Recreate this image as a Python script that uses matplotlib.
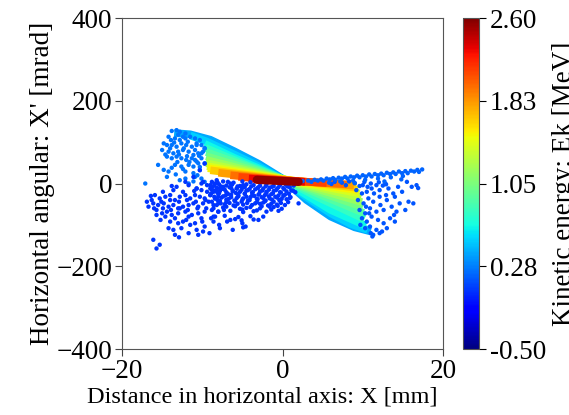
import numpy as np
import matplotlib
matplotlib.use("Agg")
import matplotlib.pyplot as plt
from matplotlib.colors import Normalize

plt.rcParams['font.family'] = ['Liberation Serif', 'DejaVu Serif']

# ---- low energy clouds ----
# upper-left cloud, Ek ~ 0.25 MeV
upper_x = [-13.8, -13.2, -12.8, -12.1, -14.2, -13.9, -13.4, -12.8, -12.1, -11.5, -10.9, -10.3,
           -14.8, -14.4, -13.8, -13.2, -12.6, -12.0, -11.3, -10.7, -10.1, -9.7, -15.0, -14.2,
           -13.6, -13.0, -12.4, -11.7, -11.1, -10.5, -9.9, -14.4, -13.8, -13.2, -12.6, -12.0,
           -11.3, -10.7, -10.1, -13.4, -12.6, -11.7, -11.1, -10.5, -14.8, -14.2, -12.1, -11.1,
           -14.4, -12.1, -10.1, -9.7, -17.1, -11.7, -10.7, -9.7, -10.1, -10.9, -10.3, -9.7,
           -10.9, -11.1,
           -13.0, -12.4, -11.8, -13.5, -14.0, -12.3, -10.9, -14.6, -12.9, -11.9, -10.4, -13.1,
           -11.6, -10.3, -13.8, -12.4, -15.5, -13.3, -10.6, -12.8]
upper_y = [127, 129, 125, 121, 113, 105, 109, 105, 109, 113, 109, 105,
           97, 93, 93, 89, 97, 93, 89, 97, 93, 85, 81, 77,
           73, 77, 81, 77, 69, 73, 77, 65, 61, 65, 61, 57,
           61, 53, 61, 45, 41, 45, 41, 49, 33, 29, 29, 25,
           16, 12, 12, 4, 0, 0, 93, 85, 73, 57, 33, 49,
           16, 5,
           118, 113, 101, 99, 85, 85, 81, 70, 70, 66, 67, 52,
           52, 40, 38, 35, 45, 22, 20, 8]
upper_e = 0.25

# lower-left dense cloud, Ek ~ 0.05 MeV
lower_x = [-13.8, -13.2, -12.1, -11.7, -10.1, -9.4, -8.4, -10.7, -10.1, -9.4, -8.8, -8.2, -7.8,
           -15.9, -15.3, -14.6, -14.0, -13.4, -12.8, -12.1, -11.5, -10.9, -10.3, -9.7, -9.0, -8.4, -8.0,
           -16.9, -16.1, -15.5, -14.8, -14.2, -13.6, -13.0, -12.4, -11.7, -11.1, -10.5, -9.9, -9.2, -8.6, -8.0,
           -16.7, -15.7, -15.0, -14.4, -13.8, -13.0, -12.1, -11.3, -10.5, -9.7, -8.8, -8.0,
           -15.7, -14.6, -13.4, -11.7, -10.1, -8.4,
           -13.0, -12.4, -11.5, -10.9, -9.7, -8.6,
           -14.2, -13.6, -12.6, -10.7, -9.9,
           -13.4, -11.7, -10.5,
           -16.1, -15.3, -15.7,
           -8.8, -8.1, -7.4, -6.8, -6.1, -5.0, -4.0,
           -8.5, -7.9, -7.0, -6.3, -5.3, -4.5, -3.6, -2.8, -2.0, -1.1, -0.3, 0.4,
           -9.0, -8.2, -7.4, -6.4, -5.7, -4.9, -4.1, -3.1, -2.4, -1.6, -0.7, 0.1, 0.9,
           -8.6, -7.8, -7.0, -6.2, -5.3, -4.5, -3.7, -2.8, -2.0, -1.1, -0.3, 0.5, 1.3,
           -9.0, -8.0, -7.1, -6.4, -5.5, -4.7, -3.8, -3.0, -2.2, -1.4, -0.5, 0.3,
           -8.4, -7.6, -6.7, -5.7, -4.9, -4.0, -3.2, -2.4, -1.6, -0.7, -0.1, 0.9,
           -8.8, -7.8, -7.0, -5.9, -5.1, -4.3, -3.2, -2.2, -1.1, -0.3, 0.7,
           -8.2, -7.2, -6.1, -4.9, -3.8, -2.8, -1.8, -0.7, 0.3,
           -8.6, -7.4, -5.3, -4.5, -2.8, -1.1, -0.1,
           -8.0, -6.5, -4.9, -3.6, -2.0, -0.5,
           -8.6, -7.2, -5.5, -4.0, -2.4,
           -6.5, -5.9, -5.1, -3.6,
           -7.8, -4.9, 2.0,
           -9.9, -9.0, -8.2, -7.4, -6.5, -5.7, -4.9, -10.7, -11.1, -10.3, -9.7,
           -8.7, -7.7, -6.6, -5.6, -4.7, -3.9, -3.0, -2.1, -1.3, -0.5, 0.6, 1.4,
           -8.3, -7.2, -6.2, -5.1, -4.3, -3.4, -2.5, -1.7, -0.8, 0.2, 1.1,
           -8.9, -7.9, -6.8, -5.8, -4.7, -3.8, -2.9, -2.0, -1.2, -0.2, 0.8, 1.6,
           -8.5, -7.4, -6.4, -5.5, -4.5, -3.5, -2.6, -1.7, -0.9, 0.1, 1.0,
           -8.1, -7.0, -6.0, -5.0, -4.1, -3.1, -2.1, -1.3, -0.4, 0.5,
           -7.7, -6.6, -5.6, -4.4, -3.4, -2.4, -1.4, -0.2,
           -7.0, -5.9, -4.0, -2.6, -1.6, -0.6,
           -7.3, -5.0, -3.2, -1.4,
           -16.3, -15.1, -14.0, -12.9, -11.9, -10.8, -9.6,
           -16.0, -14.9, -13.9, -12.8, -11.8, -10.6, -9.5,
           -15.2, -14.0, -12.0, -10.0, -8.9, -6.9, -5.0, -3.0,
           -14.9, -13.6, -12.4, -11.0, -16.4,
           -12.9, -9.1, -7.9, -4.6, -6.2]
lower_y = [-6, -8, 4, -4, 0, -4, 0, -12, -16, -20, -15, -20, -12,
           -28, -36, -32, -28, -40, -32, -28, -36, -28, -32, -36, -28, -36, -32,
           -44, -48, -52, -48, -56, -52, -60, -56, -52, -48, -56, -48, -44, -52, -48,
           -56, -64, -72, -68, -76, -72, -68, -76, -72, -68, -64, -68,
           -76, -80, -84, -80, -84, -80,
           -96, -92, -100, -96, -104, -92,
           -108, -112, -108, -112, -116,
           -124, -120, -124,
           -136, -148, -157,
           4, 3, 5, 4, 2, 5, 3,
           -4, -2, -5, -3, -6, -2, -4, -5, -3, -6, -4, -2,
           -12, -10, -13, -11, -12, -9, -13, -11, -12, -10, -13, -11, -9,
           -20, -18, -21, -19, -20, -17, -21, -19, -20, -18, -21, -19, -17,
           -28, -26, -29, -27, -28, -25, -29, -27, -28, -26, -29, -27,
           -36, -34, -37, -35, -36, -33, -37, -35, -36, -34, -37, -35,
           -44, -42, -45, -43, -44, -41, -45, -43, -44, -42, -45,
           -52, -50, -53, -51, -52, -49, -53, -51, -52,
           -60, -58, -61, -59, -60, -57, -61,
           -68, -66, -69, -67, -68, -66,
           -80, -78, -81, -79, -80,
           -88, -86, -89, -87,
           -108, -106, -48,
           4, -4, 8, -8, 0, -12, -4, -12, 16, 32, 48,
           -8, -7, -9, -7, -8, -7, -9, -7, -8, -9, -7, -5,
           -16, -15, -17, -15, -16, -14, -17, -15, -16, -14, -17,
           -24, -23, -25, -23, -24, -22, -25, -23, -24, -22, -25, -21,
           -32, -31, -33, -31, -32, -30, -33, -31, -32, -30, -33,
           -40, -39, -41, -39, -40, -38, -41, -39, -40, -38,
           -48, -47, -49, -47, -48, -46, -49, -47,
           -56, -55, -57, -55, -56, -54,
           -64, -63, -65, -63,
           -40, -44, -40, -44, -40, -44, -40,
           -60, -60, -64, -60, -64, -60, -60,
           -88, -92, -88, -92, -84, -92, -96, -88,
           -20, -16, -20, -18, -30,
           -130, -120, -100, -104, -112]
lower_e = 0.05

# right cloud, Ek ~ 0.15 MeV
right_x = [9.2, 9.9, 10.5, 11.1, 11.7, 12.1, 12.8, 13.2, 13.8, 14.4, 15.5, 16.1, 16.7, 16.9,
           9.4, 10.1, 10.7, 11.3, 12.1, 13.0, 14.0, 14.6, 15.7, 16.3,
           9.6, 10.3, 10.9, 11.7, 12.6, 13.6, 14.2, 15.3,
           9.9, 10.5, 11.1, 11.9, 12.6, 13.4, 14.0,
           10.3, 10.9, 11.7, 12.4, 13.0, 11.3, 12.1, 11.2,
           6.5, 7.4, 8.3, 9.0, 10.2, 11.0, 12.0, 12.9, 6.1, 7.9, 9.6, 10.6, 12.5,
           10.0, 11.4, 12.9, 14.9, 10.4, 12.2, 13.9, 9.7, 11.0, 10.8]
right_y = [-16, -24, -20, -12, -4, -16, 0, -12, -24, -8, 4, -8, -4, -11,
           -40, -48, -36, -44, -32, -40, -32, -48, -44, -48,
           -64, -72, -60, -68, -64, -56, -68, -64,
           -84, -92, -80, -88, -96, -84, -92,
           -108, -104, -112, -116, -108, -124, -120, -128,
           4, 2, 5, 1, 4, 0, 3, -2, -1, -4, -6, -8, -5,
           -4, -24, -28, -20, -56, -52, -76, -100, -120, -72]
right_e = 0.15

# thin blue line towards upper right, Ek ~ 0.2 MeV
line_x = [2.5, 3.2, 4.0, 4.8, 5.5, 6.3, 7.0, 7.8, 8.5, 9.3, 10.0, 10.8, 11.5, 12.3, 13.0, 13.8,
          14.5, 15.3, 16.0, 16.8, 17.4,
          3.6, 5.1, 6.6, 8.1, 9.6, 11.1, 12.6, 14.1, 15.6, 17.0,
          5.8, 7.2, 8.8, 10.3, 11.9, 13.5, 15.0, 9.0, 12.7, 14.8,
          4.4, 5.9, 7.4, 8.9, 10.4, 11.9, 13.4, 14.9, 16.4]
line_y = [6, 7, 9, 10, 12, 13, 14, 16, 17, 19, 20, 22, 23, 24, 26, 27,
          29, 30, 31, 33, 34,
          4, 7, 9, 12, 15, 17, 20, 23, 25, 28,
          2, 5, 7, 9, 12, 15, 18, 1, 5, 10,
          7, 10, 12, 15, 17, 20, 23, 25, 29]
line_e = 0.2

# ---- high energy band: one polyline per energy level ----
band_e = [0.40, 0.52, 0.64, 0.78, 0.90, 1.02, 1.15, 1.28, 1.40, 1.52, 1.65, 1.80, 1.95, 2.10, 2.30]
band_x = [[-13.5, -11.5, -9, -6, -3, 0, 3, 6, 9, 11],
          [-11.5, -9.5, -6, -3, 0, 3, 6, 8.5, 10.6],
          [-9.7, -6, -3, 0, 3, 6, 10.4],
          [-9.6, -4.5, 0, 4.5, 10.2],
          [-9.5, 0, 10.1],
          [-9.5, 0, 10.0],
          [-9.5, 0, 9.9],
          [-9.5, 0, 9.8],
          [-9.4, 0, 9.6],
          [-9.3, 0, 9.4],
          [-9.0, 0, 9.2],
          [-8.0, 0, 8.9],
          [-6.5, 0, 8.0],
          [-5.5, 0, 5.5],
          [-4.2, 2.8]]
band_y = [[122, 119, 106, 78, 48, 12, -40, -80, -106, -116],
          [116, 102, 70, 42, 10, -33, -72, -98, -112],
          [96, 62, 37, 10, -28, -64, -102],
          [86, 45, 11, -34, -86],
          [76, 11, -71],
          [66, 11, -57],
          [57, 11, -45],
          [49, 11, -34],
          [42, 11, -24],
          [37, 10, -16],
          [32, 10, -10],
          [26, 9, -5],
          [20, 8, -2],
          [16, 8, 1],
          [12, 4]]
core_x = [-3.2, 2.0]
core_y = [9, 4]
core_e = 2.55

e_min, e_max = -0.5, 2.6
cbar_ticks = [-0.5, 0.275, 1.05, 1.825, 2.6]
cbar_labels = ['-0.50', '0.28', '1.05', '1.83', '2.60']

cmap = plt.get_cmap('jet')
norm = Normalize(e_min, e_max)

fig = plt.figure(figsize=(5.69, 4.15), dpi=100)
ax = fig.add_axes([0.2144, 0.159, 0.5642, 0.7976])
cax = fig.add_axes([0.8137, 0.159, 0.0281, 0.7976])

ax.scatter(upper_x, upper_y, c=[upper_e] * len(upper_x), cmap=cmap, norm=norm, s=10, lw=0, zorder=3)
ax.scatter(lower_x, lower_y, c=[lower_e] * len(lower_x), cmap=cmap, norm=norm, s=10, lw=0, zorder=3)
ax.scatter(right_x, right_y, c=[right_e] * len(right_x), cmap=cmap, norm=norm, s=10, lw=0, zorder=3)
ax.scatter(line_x, line_y, c=[line_e] * len(line_x), cmap=cmap, norm=norm, s=10, lw=0, zorder=3)

for e, xs, ys in zip(band_e, band_x, band_y):
    ax.plot(xs, ys, color=cmap(norm(e)), lw=5.5, solid_capstyle='butt', zorder=2)
ax.plot(core_x, core_y, color=cmap(norm(core_e)), lw=6, solid_capstyle='round', zorder=4)

ax.set_xlim(-20, 20)
ax.set_ylim(-400, 400)
ax.set_xticks([-20, 0, 20])
ax.set_yticks([-400, -200, 0, 200, 400])
ax.tick_params(labelsize=19.5, length=5, width=0.8, color='#444444', pad=2)
for sp in ax.spines.values():
    sp.set_color('#555555')
ax.set_xlabel('Distance in horizontal axis: X [mm]', fontsize=17.5)
ax.xaxis.set_label_coords(0.436, -0.112)
ax.set_ylabel("Horizontal angular: X' [mrad]", fontsize=19.5, labelpad=1)

sm = matplotlib.cm.ScalarMappable(norm=norm, cmap=cmap)
cb = fig.colorbar(sm, cax=cax, ticks=cbar_ticks)
cb.ax.set_yticklabels(cbar_labels)
cb.ax.tick_params(labelsize=19.5, length=5, width=0.8, pad=3)
cb.outline.set_edgecolor('#555555')
cb.set_label('Kinetic energy: Ek [MeV]', fontsize=19.5, labelpad=4)

fig.savefig('out.png', dpi=100)
